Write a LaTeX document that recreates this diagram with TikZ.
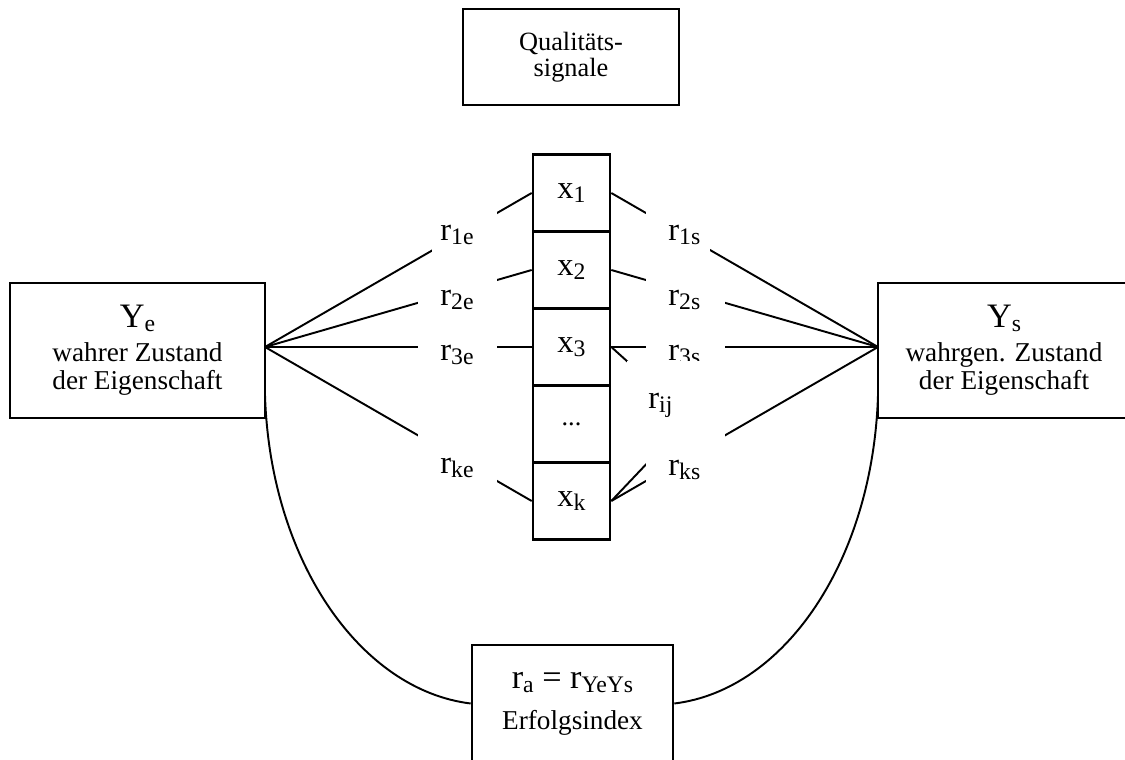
\documentclass[tikz,border=0pt]{standalone}
\usepackage{fontspec}
\setmainfont{Liberation Serif}
\newcommand{\sbs}[1]{\raisebox{-2.3pt}{\fontsize{13.5}{14}\selectfont #1}}
\begin{document}
\begin{tikzpicture}[x=0.02cm,y=-0.02cm,
  box/.style={draw, line width=1.5pt, inner sep=0pt, align=center, font=\fontsize{15.5}{16}\selectfont},
  cell/.style={draw, line width=1.5pt, minimum width=1.54cm, minimum height=1.54cm, inner sep=0pt, font=\fontsize{18.5}{18.5}\selectfont},
  conn/.style={line width=1.1pt},
  lbl/.style={inner sep=0pt, anchor=base west, font=\fontsize{18.5}{18.5}\selectfont},
  mask/.style={fill=white}]
\useasboundingbox (0,0) rectangle (1125,760);

% boxes
\node[box, minimum width=4.32cm, minimum height=1.92cm, font=\fontsize{15}{14.8}\selectfont] (Q) at (571,57) {Qualitäts-\\signale};
\node[box, minimum width=5.1cm, minimum height=2.7cm] (Ye) at (137.5,350.5)
  {{\fontsize{19.5}{19.5}\selectfont Y\sbs{e}}\\[3.3pt] wahrer Zustand\\der Eigenschaft};
\node[box, minimum width=5.04cm, minimum height=2.7cm] (Ys) at (1004,350.5)
  {{\fontsize{19.5}{19.5}\selectfont Y\sbs{s}}\\[3.3pt] wahrgen. Zustand\\der Eigenschaft};
\node[box, minimum width=4.02cm, minimum height=2.34cm] (Ra) at (572.5,703.5)
  {{\fontsize{19.5}{19.5}\selectfont r\sbs{a} = r\sbs{YeYs}}\\[7.3pt] Erfolgsindex};

% column of signals
\node[cell] (c1) at (571.5,193) {x\sbs{1}};
\node[cell] (c2) at (571.5,270) {x\sbs{2}};
\node[cell] (c3) at (571.5,347) {x\sbs{3}};
\node[cell] (cd) at (571.5,424) {\fontsize{15}{15}\selectfont ...};
\node[cell] (ck) at (571.5,501) {x\sbs{k}};

% anchor points
\coordinate (ye) at (265,347);
\coordinate (ys) at (878,347);
\coordinate (rijpt) at (690,418);
\coordinate (lcs) at (265,395);
\coordinate (rcs) at (878,395);

% connectors
\draw[conn] (ye) -- (c1.west);
\draw[conn] (ye) -- (c2.west);
\draw[conn] (ye) -- (c3.west);
\draw[conn] (ye) -- (ck.west);
\draw[conn] (ys) -- (c1.east);
\draw[conn] (ys) -- (c2.east);
\draw[conn] (ys) -- (c3.east);
\draw[conn] (ys) -- (ck.east);
\draw[conn] (c3.east) -- (rijpt) -- (ck.east);
\draw[conn] (lcs) .. controls (270,560) and (360,690) .. (Ra.west);
\draw[conn] (Ra.east) .. controls (785,690) and (873,560) .. (rcs);

% left labels
\fill[mask] (432,210) rectangle (497,256);
\fill[mask] (418,275) rectangle (497,322);
\fill[mask] (418,330) rectangle (497,372);
\fill[mask] (418,425) rectangle (497,490);
\node[lbl] (l1e) at (440,240) {r\sbs{1e}};
\node[lbl] (l2e) at (440,305) {r\sbs{2e}};
\node[lbl] (l3e) at (440,360) {r\sbs{3e}};
\node[lbl] (lke) at (440,473) {r\sbs{ke}};

% right labels
\fill[mask] (646,210) rectangle (710,256);
\fill[mask] (646,275) rectangle (725,322);
\node[lbl] (l1s) at (668,240) {r\sbs{1s}};
\node[lbl] (l2s) at (668,305) {r\sbs{2s}};
\fill[mask] (646,330) rectangle (725,372);
\node[lbl] (l3s) at (668,360) {r\sbs{3s}};
\fill[mask] (627,361) rectangle (700,430);
\node[lbl] (lij) at (648,408) {r\sbs{ij}};
\fill[mask] (646,425) rectangle (725,490);
\node[lbl] (lks) at (668,475) {r\sbs{ks}};
\end{tikzpicture}
\end{document}
